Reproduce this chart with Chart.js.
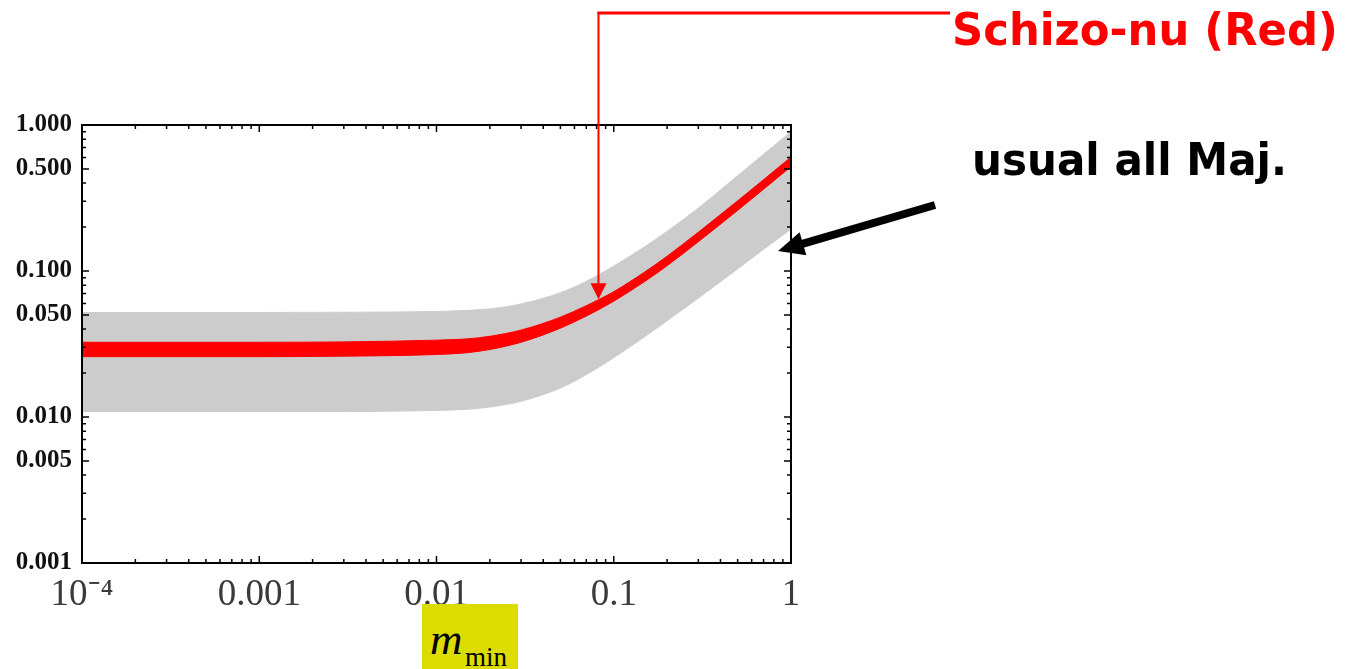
<!DOCTYPE html>
<html>
<head>
<meta charset="utf-8">
<script src="https://cdn.jsdelivr.net/npm/chart.js@4.4.1/dist/chart.umd.min.js"></script>
<style>
  body { margin: 0; background: #fff; }
  #wrap { position: relative; width: 1358px; height: 669px; overflow: hidden; }
  #wrap canvas { position: absolute; left: 0; top: 0; }
  .note { position: absolute; font-family: "DejaVu Sans", sans-serif; font-weight: bold; white-space: nowrap; transform-origin: left top; }
  #schizo { left: 952px; top: 3px; font-size: 45px; color: #f00; transform: scaleX(0.963); }
  #usual { left: 972px; top: 133px; font-size: 45px; color: #000; transform: scaleX(0.935); }
  #mlabel { position: absolute; left: 422px; top: 604px; width: 96px; height: 65px; background: #dcdc00; font-family: "Liberation Serif", serif; color: #000; }
  #mlabel span { position: absolute; white-space: nowrap; }
  #mlabel .m { left: 8px; top: 9px; font-size: 45px; font-style: italic; }
  #mlabel .sub { left: 43px; top: 38px; font-size: 27px; }
</style>
</head>
<body>
<div id="wrap">
  <canvas id="mChart"></canvas>
  <div class="note" id="schizo">Schizo-nu (Red)</div>
  <div class="note" id="usual">usual all Maj.</div>
  <div id="mlabel"><span class="m">m</span><span class="sub">min</span></div>
</div>
<script>
// data (log-log axes)
const mMin      = [1e-4, 1e-3, 3e-3, 0.01, 0.015, 0.02, 0.03, 0.05, 0.07, 0.1, 0.15, 0.2, 0.3, 0.5, 0.7, 1];
const grayUpper = [0.052, 0.052, 0.0522, 0.0528, 0.0538, 0.055, 0.0595, 0.071, 0.085, 0.108, 0.147, 0.187, 0.27, 0.45, 0.63, 0.9];
const grayLower = [0.0109, 0.0109, 0.0109, 0.0111, 0.0113, 0.0117, 0.0128, 0.0158, 0.0195, 0.0255, 0.0356, 0.0456, 0.0652, 0.1033, 0.1406, 0.194];
const redUpper  = [0.0325, 0.0325, 0.0327, 0.0336, 0.0343, 0.0357, 0.0394, 0.0483, 0.0579, 0.0722, 0.0987, 0.1263, 0.1844, 0.3023, 0.4219, 0.6026];
const redLower  = [0.0259, 0.0259, 0.0261, 0.0268, 0.0276, 0.029, 0.0325, 0.0406, 0.0491, 0.0621, 0.085, 0.1087, 0.1587, 0.2601, 0.3631, 0.5186];

// tick labels
const xTickValues = [1e-4, 1e-3, 0.01, 0.1, 1];
const xTickLabels = ['10\u207B\u2074', '0.001', '0.01', '0.1', '1'];
const yTickValues = [0.001, 0.005, 0.01, 0.05, 0.1, 0.5, 1];
const yTickLabels = ['0.001', '0.005', '0.010', '0.050', '0.100', '0.500', '1.000'];

// where the two arrows point (data coords)
const redArrowTip = [0.082, 0.064];
const blackArrowTip = [0.845, 0.137];

const red = '#ff0000';
const gray = '#cccccc';

var toPoints = function(ys) {
  return mMin.map((x, i) => ({x: x, y: ys[i]}));
};

var sameLog = function(a, b) {
  return Math.abs(Math.log10(a) - Math.log10(b)) < 1e-6;
};

// 1..9 x 10^n ticks inside [min, max]
var logTicks = function(scale) {
  var result = [];
  var lo = Math.floor(Math.log10(scale.min)), hi = Math.ceil(Math.log10(scale.max));
  for (var e = lo; e <= hi; e++) {
    for (var k = 1; k <= 9; k++) {
      var v = Number((k * Math.pow(10, e)).toPrecision(6));
      if (v >= scale.min * 0.999999 && v <= scale.max * 1.000001) result.push({value: v});
    }
  }
  scale.ticks = result;
};

var labelFor = function(values, labels) {
  return function(value) {
    var i = values.findIndex(v => sameLog(v, value));
    return i >= 0 ? labels[i] : '';
  };
};

var drawArrowHead = function(ctx, tx, ty, fx, fy, len, half) {
  var ang = Math.atan2(ty - fy, tx - fx);
  ctx.beginPath();
  ctx.moveTo(tx, ty);
  ctx.lineTo(tx - len * Math.cos(ang) + half * Math.sin(ang), ty - len * Math.sin(ang) - half * Math.cos(ang));
  ctx.lineTo(tx - len * Math.cos(ang) - half * Math.sin(ang), ty - len * Math.sin(ang) + half * Math.cos(ang));
  ctx.closePath();
  ctx.fill();
};

// frame with inward ticks, plus the two annotation arrows
const framePlugin = {
  id: 'framePlugin',
  afterDraw(chart) {
    const ctx = chart.ctx, a = chart.chartArea, xs = chart.scales.x, ys = chart.scales.y;
    ctx.save();
    ctx.strokeStyle = '#000';
    ctx.lineWidth = 2;
    ctx.strokeRect(a.left, a.top, a.right - a.left, a.bottom - a.top);

    ctx.lineWidth = 1.5;
    ctx.beginPath();
    xs.ticks.forEach(t => {
      var px = xs.getPixelForValue(t.value);
      var len = xTickValues.some(v => sameLog(v, t.value)) ? 7 : 4;
      ctx.moveTo(px, a.bottom); ctx.lineTo(px, a.bottom - len);
      ctx.moveTo(px, a.top); ctx.lineTo(px, a.top + len);
    });
    ys.ticks.forEach(t => {
      var py = ys.getPixelForValue(t.value);
      var len = yTickValues.some(v => sameLog(v, t.value)) ? 7 : 4;
      ctx.moveTo(a.left, py); ctx.lineTo(a.left + len, py);
      ctx.moveTo(a.right, py); ctx.lineTo(a.right - len, py);
    });
    ctx.stroke();

    // red arrow from the label down to the curve
    var rx = xs.getPixelForValue(redArrowTip[0]);
    var ry = ys.getPixelForValue(redArrowTip[1]);
    ctx.strokeStyle = red;
    ctx.fillStyle = red;
    ctx.lineWidth = 3;
    ctx.beginPath();
    ctx.moveTo(950, 13); ctx.lineTo(rx - 1, 13);
    ctx.stroke();
    ctx.lineWidth = 2;
    ctx.beginPath();
    ctx.moveTo(rx, 12); ctx.lineTo(rx, ry - 14);
    ctx.stroke();
    drawArrowHead(ctx, rx, ry, rx, 13, 16, 8);

    // black arrow to the gray band
    var bx = xs.getPixelForValue(blackArrowTip[0]);
    var by = ys.getPixelForValue(blackArrowTip[1]);
    var tailX = 935, tailY = 205;
    var ang = Math.atan2(by - tailY, bx - tailX);
    ctx.strokeStyle = '#000';
    ctx.fillStyle = '#000';
    ctx.lineWidth = 8;
    ctx.beginPath();
    ctx.moveTo(tailX, tailY);
    ctx.lineTo(bx - 20 * Math.cos(ang), by - 20 * Math.sin(ang));
    ctx.stroke();
    drawArrowHead(ctx, bx, by, tailX, tailY, 26, 12);
    ctx.restore();
  }
};

var canvas = document.getElementById('mChart');
canvas.width = 1358;
canvas.height = 669;

new Chart(canvas.getContext('2d'), {
  type: 'line',
  data: {
    datasets: [
      { data: toPoints(redUpper), fill: '+1', backgroundColor: red, borderColor: red, borderWidth: 1 },
      { data: toPoints(redLower), fill: false, borderColor: red, borderWidth: 1 },
      { data: toPoints(grayUpper), fill: '+1', backgroundColor: gray, borderColor: gray, borderWidth: 1 },
      { data: toPoints(grayLower), fill: false, borderColor: gray, borderWidth: 1 }
    ]
  },
  options: {
    responsive: false,
    animation: false,
    events: [],
    layout: { padding: { left: 0, top: 125, right: 567, bottom: 56 } },
    elements: {
      point: { radius: 0 },
      line: { cubicInterpolationMode: 'monotone' }
    },
    plugins: { legend: { display: false }, tooltip: { enabled: false } },
    scales: {
      x: {
        type: 'logarithmic',
        min: 1e-4,
        max: 1,
        afterBuildTicks: logTicks,
        afterFit: s => { s.height = 50; },
        grid: { display: false, drawTicks: false },
        border: { display: false },
        ticks: {
          autoSkip: false,
          maxRotation: 0,
          padding: 10,
          color: '#3a3a3a',
          font: { family: 'Liberation Serif', size: 37 },
          callback: labelFor(xTickValues, xTickLabels)
        }
      },
      y: {
        type: 'logarithmic',
        min: 0.001,
        max: 1,
        afterBuildTicks: logTicks,
        afterFit: s => { s.width = 82; },
        grid: { display: false, drawTicks: false },
        border: { display: false },
        ticks: {
          autoSkip: false,
          padding: 10,
          color: '#111',
          font: { family: 'Liberation Serif', size: 25, weight: 'bold' },
          callback: labelFor(yTickValues, yTickLabels)
        }
      }
    }
  },
  plugins: [framePlugin]
});
</script>
</body>
</html>
